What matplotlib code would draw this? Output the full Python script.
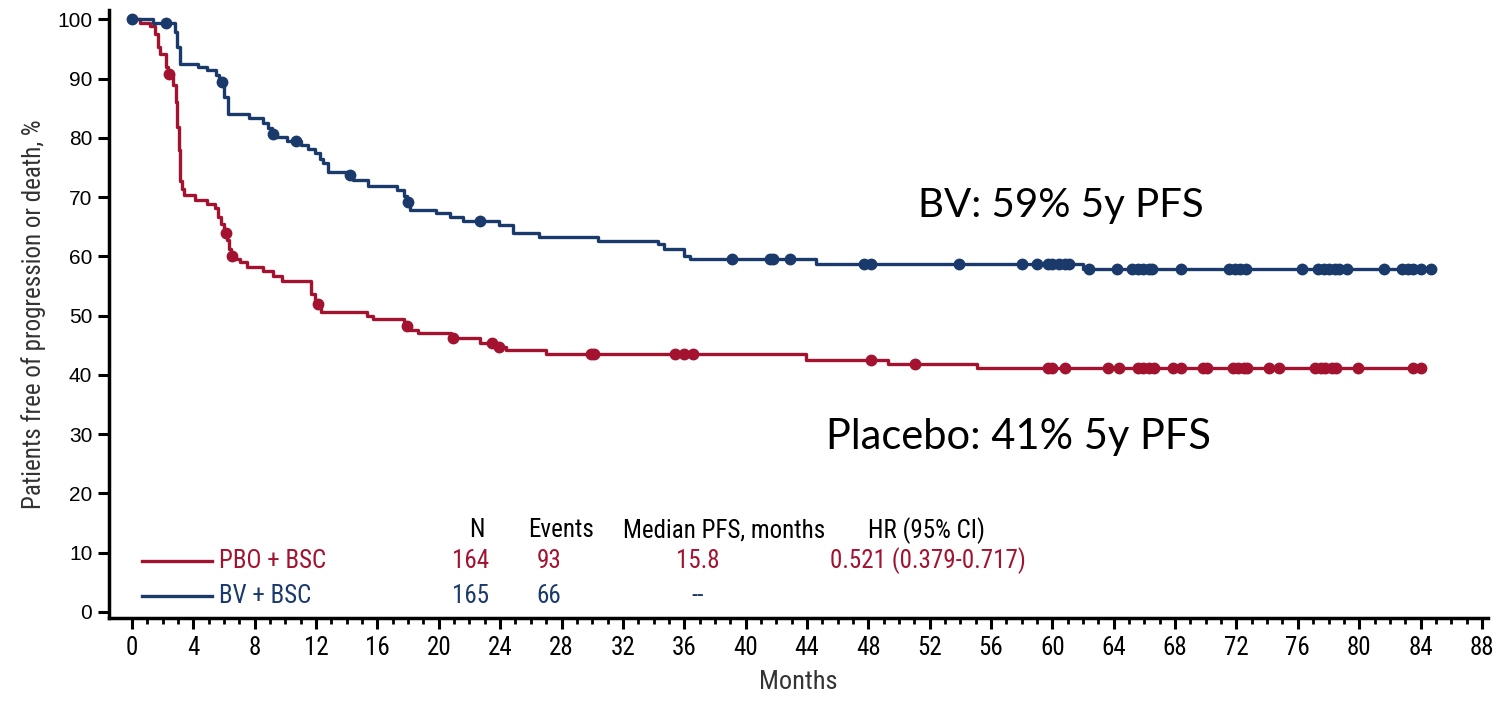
import numpy as np
import matplotlib
matplotlib.use('Agg')
import matplotlib.pyplot as plt
from matplotlib import font_manager

# Kaplan-Meier steps (months, % free of progression or death)
bv_t = [0, 1.4, 2.8, 2.95, 3.13, 4.3, 4.9, 5.5, 5.7, 6.0, 6.25, 7.6, 8.55, 8.87, 9.1, 9.4,
        10.1, 11.05, 11.5, 11.9, 12.25, 12.45, 12.8, 14.0, 14.4, 15.4, 17.25, 17.7, 17.9,
        18.1, 19.85, 20.7, 21.6, 23.9, 24.85, 26.5, 30.4, 34.3, 34.7, 36.0, 36.35, 44.6, 62.0, 84.7]
bv_s = [100, 99.4, 97.9, 95.3, 92.5, 91.9, 91.4, 90.6, 89.4, 86.9, 84.0, 83.3, 82.5, 81.6, 80.7, 80.2,
        79.5, 78.8, 78.2, 77.4, 76.5, 75.7, 74.3, 73.7, 72.9, 71.8, 71.2, 70.2, 69.2,
        67.9, 67.3, 66.7, 66.0, 65.3, 64.0, 63.3, 62.6, 62.1, 61.3, 60.0, 59.5, 58.7, 57.8, 57.8]
bv_cens = [0, 2.2, 5.85, 9.2, 10.7, 14.2, 18.0, 22.7, 39.1, 41.6, 41.8, 42.9, 47.75, 48.2, 53.9,
           58.0, 59.0, 59.7, 60.0, 60.4, 60.8, 61.05, 62.4, 64.2, 65.2, 65.6, 65.9, 66.3, 66.5,
           68.4, 71.5, 71.9, 72.2, 72.6, 76.25, 77.3, 77.7, 78.0, 78.4, 78.7, 79.2, 81.6, 82.8,
           83.2, 83.5, 84.0, 84.7]

pbo_t = [0, 0.5, 1.2, 1.5, 1.7, 1.85, 2.2, 2.35, 2.69, 2.87, 2.95, 3.04, 3.13, 3.25, 3.39, 4.1,
         4.87, 5.4, 5.6, 5.8, 6.0, 6.2, 6.35, 6.45, 6.65, 7.04, 7.5, 8.55, 9.2, 9.75, 11.64, 11.9,
         12.3, 15.3, 15.7, 17.7, 18.1, 18.65, 20.8, 22.7, 23.8, 24.4, 27.0, 43.95, 49.3, 55.1, 84.0]
pbo_s = [100, 99.4, 98.8, 97.6, 95.3, 94.2, 92.0, 90.8, 88.9, 86.1, 81.8, 77.9, 72.8, 71.4, 70.3, 69.6,
         68.8, 68.1, 66.7, 65.5, 64.0, 62.7, 61.3, 60.1, 59.6, 59.1, 58.2, 57.6, 56.7, 55.8, 53.7, 51.9,
         50.6, 49.9, 49.5, 48.2, 47.55, 47.0, 46.2, 45.4, 44.7, 44.2, 43.5, 42.6, 41.9, 41.2, 41.2]
pbo_cens = [2.4, 6.1, 6.53, 12.14, 17.9, 20.9, 23.45, 23.9, 29.9, 30.1, 35.4, 36.0, 36.6, 48.2,
            51.05, 59.7, 60.0, 60.8, 63.6, 64.35, 65.6, 65.9, 66.3, 66.6, 67.85, 68.4, 69.8, 70.1,
            71.8, 72.1, 72.5, 72.7, 74.1, 74.8, 77.1, 77.5, 77.8, 78.2, 78.5, 79.9, 83.5, 84.0]

header = ['N', 'Events', 'Median PFS, months', 'HR (95% CI)']
pbo_row = ['164', '93', '15.8', '0.521 (0.379-0.717)']
bv_row = ['165', '66', '--', '']

red = '#A3122F'
blue = '#1A3A6C'

# pick a condensed face if one is installed
names = set(f.name for f in font_manager.fontManager.ttflist)
narrow = 'DejaVu Sans'
for cand in ['Liberation Sans Narrow', 'DejaVu Sans Condensed', 'Roboto Condensed',
             'Open Sans Condensed', 'Noto Sans Condensed']:
    if cand in names:
        narrow = cand
        break


def at(times, t, s):
    idx = np.searchsorted(times, t, side='right') - 1
    return np.asarray(s)[idx]


fig = plt.figure(figsize=(14.99, 7.07), dpi=100)
ax = fig.add_axes([0.0727, 0.126, 0.9200, 0.860])

ax.step(pbo_t, pbo_s, where='post', color=red, lw=2.4)
ax.plot(pbo_cens, at(pbo_t, pbo_cens, pbo_s), 'o', color=red, ms=7.5)
ax.step(bv_t, bv_s, where='post', color=blue, lw=2.4)
ax.plot(bv_cens, at(bv_t, bv_cens, bv_s), 'o', color=blue, ms=7.5)

ax.set_xlim(-1.5, 88.4)
ax.set_ylim(-1.0, 101.6)
ax.set_xticks(np.arange(0, 89, 4))
ax.set_xticks(np.arange(0, 89, 1), minor=True)
ax.set_yticks(np.arange(0, 101, 10))
for sp in ['top', 'right']:
    ax.spines[sp].set_visible(False)
for sp in ['left', 'bottom']:
    ax.spines[sp].set_linewidth(2.5)
ax.tick_params(axis='both', which='major', width=2.2, length=8, direction='out')
ax.tick_params(axis='x', which='minor', width=2, length=4.5)
ax.tick_params(axis='y', labelsize=15, pad=4)
ax.tick_params(axis='x', labelsize=18, pad=5)
for lab in ax.get_yticklabels():
    lab.set_family('Liberation Sans')
for lab in ax.get_xticklabels():
    lab.set_family(narrow)

ax.set_xlabel('Months', family=narrow, fontsize=19, color='#333333', labelpad=7)
ax.set_ylabel('Patients free of progression or death, %', family=narrow, fontsize=18,
              color='#333333', labelpad=8)

# legend / summary table
fs = 18
ax.text(22.5, 13.8, header[0], ha='center', va='center', family=narrow, fontsize=fs)
ax.text(28.0, 13.8, header[1], ha='center', va='center', family=narrow, fontsize=fs)
ax.text(38.6, 13.8, header[2], ha='center', va='center', family=narrow, fontsize=fs)
ax.text(51.8, 13.8, header[3], ha='center', va='center', family=narrow, fontsize=fs)

ax.plot([0.65, 5.2], [8.6, 8.6], color=red, lw=2.4)
ax.plot([0.65, 5.2], [2.7, 2.7], color=blue, lw=2.4)
ax.text(5.65, 8.6, 'PBO + BSC', va='center', color=red, family=narrow, fontsize=fs)
ax.text(5.65, 2.7, 'BV + BSC', va='center', color=blue, family=narrow, fontsize=fs)
cols = [22.1, 27.2, 36.9, 51.9]
for x, a, b in zip(cols, pbo_row, bv_row):
    ax.text(x, 8.6, a, ha='center', va='center', color=red, family=narrow, fontsize=fs)
    ax.text(x, 2.7, b, ha='center', va='center', color=blue, family=narrow, fontsize=fs)

ax.text(60.55, 68.6, 'BV: 59% 5y PFS', ha='center', va='center', family='Lato', fontsize=29)
ax.text(57.8, 29.6, 'Placebo: 41% 5y PFS', ha='center', va='center', family='Lato', fontsize=30)

fig.savefig('out.png', dpi=100)
